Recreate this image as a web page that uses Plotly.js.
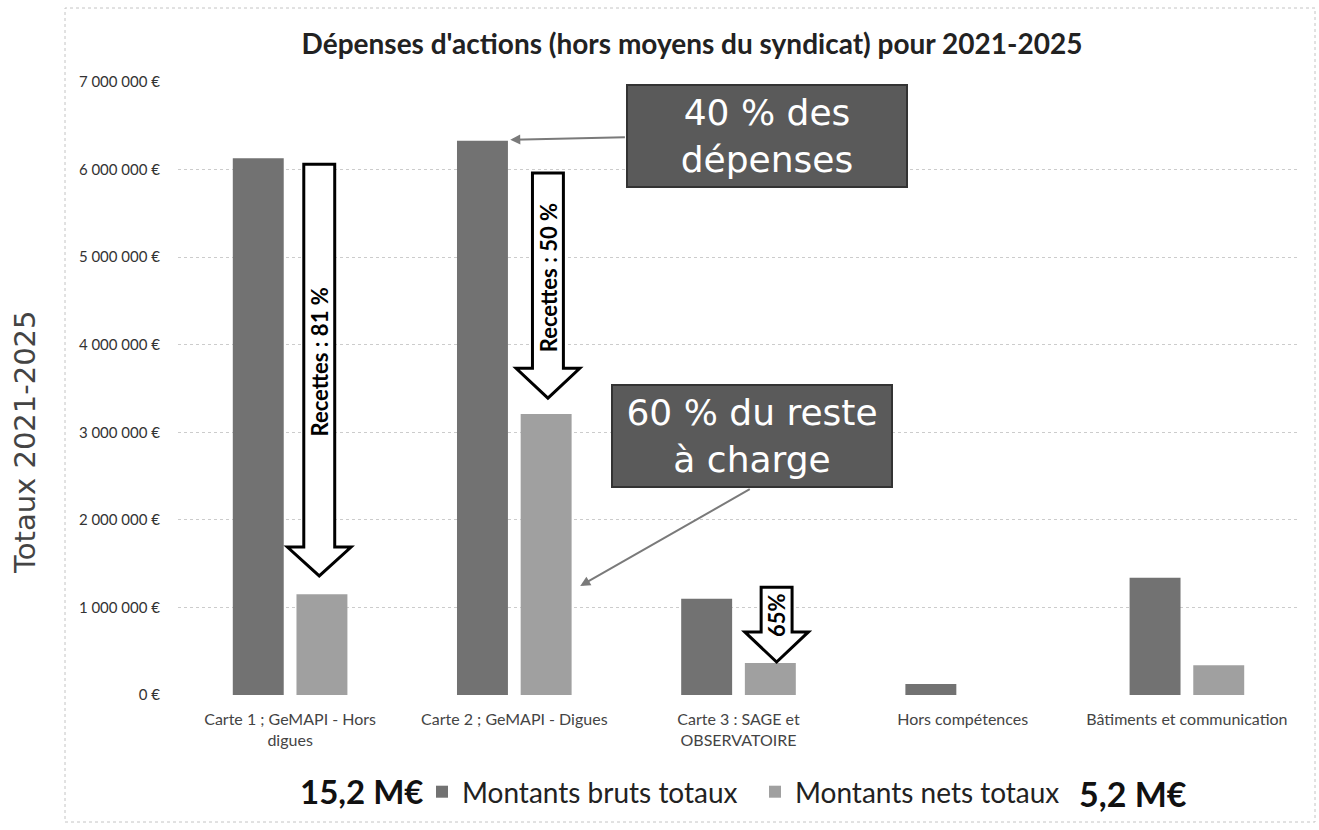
<!DOCTYPE html>
<html>
<head>
<meta charset="utf-8">
<script src="https://cdn.plot.ly/plotly-3.0.1.min.js"></script>
<style>
  html, body { margin: 0; padding: 0; background: #fff; }
  #graph { width: 1319px; height: 830px; }
</style>
</head>
<body>
<div id="graph"></div>
<script>
// values (euros, totals 2021-2025)
const categories = [
    "Carte 1 ; GeMAPI - Hors<br>digues",
    "Carte 2 ; GeMAPI - Digues",
    "Carte 3 : SAGE et<br>OBSERVATOIRE",
    "Hors compétences",
    "Bâtiments et communication"
];
const grossTotals = [6130000, 6330000, 1100000, 126000, 1340000];
const netTotals = [1150000, 3210000, 365000, 0, 340000];
const yTicks = [0, 1000000, 2000000, 3000000, 4000000, 5000000, 6000000, 7000000];
const yTickText = ["0 €", "1 000 000 €", "2 000 000 €", "3 000 000 €", "4 000 000 €", "5 000 000 €", "6 000 000 €", "7 000 000 €"];
const grossLabel = "Montants bruts totaux";
const netLabel = "Montants nets totaux";
const grossSum = "15,2 M€";
const netSum = "5,2 M€";

// hollow "recettes" arrows, from the gross level down to the net bar
const recettesArrows = [
    { cat: 0, label: "Recettes : 81 %", top: 6060000, headBase: 1690000, tip: 1360000, textY: 3800000 },
    { cat: 1, label: "Recettes : 50 %", top: 5960000, headBase: 3730000, tip: 3390000, textY: 4770000 },
    { cat: 2, label: "65%", top: 1230000, headBase: 720000, tip: 377000, textY: 910000 }
];
const arrowOffsets = [0.13, 0.15, 0.17];

// plot area in pixels (used only for decorations placed outside the axes)
const W = 1319, H = 830;
const M = { l: 178, r: 20, t: 82, b: 135 };
const pw = W - M.l - M.r, ph = H - M.t - M.b;
const px = x => (x - M.l) / pw;
const py = y => (H - M.b - y) / ph;

function arrowPath(c, a) {
    const s = 0.069, h = 0.142;
    return `M ${c - s},${a.top} L ${c + s},${a.top} L ${c + s},${a.headBase} ` +
           `L ${c + h},${a.headBase} L ${c},${a.tip} L ${c - h},${a.headBase} ` +
           `L ${c - s},${a.headBase} Z`;
}

const data = [
    {
        x: categories,
        y: grossTotals,
        type: "bar",
        name: grossLabel,
        marker: { color: "#727272" },
        hoverinfo: "skip"
    },
    {
        x: categories,
        y: netTotals,
        type: "bar",
        name: netLabel,
        marker: { color: "#a0a0a0" },
        hoverinfo: "skip"
    }
];

const shapes = recettesArrows.map((a, i) => ({
    type: "path",
    xref: "x", yref: "y",
    path: arrowPath(a.cat + arrowOffsets[i], a),
    fillcolor: "#ffffff",
    line: { color: "#000000", width: 3 }
}));

// dotted frame around the chart object
shapes.push({
    type: "rect", xref: "paper", yref: "paper",
    x0: px(65), x1: px(1315), y0: py(822), y1: py(8),
    line: { color: "#c4c4c4", width: 1, dash: "dot" },
    layer: "below"
});

const annotations = recettesArrows.map((a, i) => ({
    xref: "x", yref: "y",
    x: a.cat + arrowOffsets[i], y: a.textY,
    text: a.label,
    textangle: -90,
    showarrow: false,
    font: { family: "Lato, sans-serif", size: 22, color: "#000", weight: "bold" }
}));

const boxStyle = {
    xref: "x", yref: "y",
    showarrow: false,
    bgcolor: "#5a5a5a",
    bordercolor: "#333333",
    borderwidth: 2,
    borderpad: 0,
    width: 278,
    height: 100,
    align: "center",
    valign: "middle",
    font: { family: "DejaVu Sans, sans-serif", size: 36, color: "#ffffff" }
};

annotations.push(
    Object.assign({}, boxStyle, { x: 2.126, y: 6380000, text: "40 % des<br>dépenses" }),
    Object.assign({}, boxStyle, { x: 2.061, y: 2963000, text: "60 % du reste<br>à charge" }),
    {
        xref: "x", yref: "y", axref: "x", ayref: "y",
        x: 0.982, y: 6340000, ax: 1.5, ay: 6370000,
        text: "", showarrow: true,
        arrowhead: 2, arrowsize: 1, arrowwidth: 2, arrowcolor: "#7a7a7a"
    },
    {
        xref: "x", yref: "y", axref: "x", ayref: "y",
        x: 1.294, y: 1245000, ax: 2.057, ay: 2360000,
        text: "", showarrow: true,
        arrowhead: 2, arrowsize: 1, arrowwidth: 2, arrowcolor: "#7a7a7a"
    },
    {
        xref: "paper", yref: "paper",
        x: px(25), y: py(442),
        xanchor: "center", yanchor: "middle",
        text: "Totaux 2021-2025",
        textangle: -90,
        showarrow: false,
        font: { family: "DejaVu Sans, sans-serif", size: 29, color: "#444" }
    },
    {
        xref: "paper", yref: "paper",
        x: px(362), y: py(791),
        xanchor: "center", yanchor: "middle",
        text: grossSum,
        showarrow: false,
        font: { family: "Lato, sans-serif", size: 33, color: "#111", weight: "bold" }
    },
    {
        xref: "paper", yref: "paper",
        x: px(1133), y: py(793),
        xanchor: "center", yanchor: "middle",
        text: netSum,
        showarrow: false,
        font: { family: "Lato, sans-serif", size: 34, color: "#111", weight: "bold" }
    }
);

const layout = {
    width: W,
    height: H,
    margin: M,
    paper_bgcolor: "#ffffff",
    plot_bgcolor: "#ffffff",
    barmode: "group",
    bargap: 0.432,
    bargroupgap: 0.2,
    font: { family: "Lato, sans-serif", color: "#333" },
    title: {
        text: "Dépenses d'actions (hors moyens du syndicat) pour 2021-2025",
        font: { family: "Lato, sans-serif", size: 28, color: "#222", weight: "bold" },
        x: 692 / W,
        xanchor: "center",
        y: 1 - 44 / H,
        yanchor: "middle"
    },
    xaxis: {
        type: "category",
        showgrid: false,
        showline: false,
        zeroline: false,
        ticks: "",
        ticklabelstandoff: 13,
        tickfont: { size: 16, color: "#444" }
    },
    yaxis: {
        range: [0, 7000000],
        tickvals: yTicks,
        ticktext: yTickText,
        tickfont: { size: 15, color: "#333" },
        ticks: "",
        ticklabelstandoff: 17,
        showline: false,
        zeroline: false,
        showgrid: true,
        gridcolor: "#cccccc",
        griddash: "dot",
        gridwidth: 1
    },
    showlegend: true,
    legend: {
        orientation: "h",
        x: px(422),
        xanchor: "left",
        y: py(792),
        yanchor: "middle",
        entrywidth: 288,
        entrywidthmode: "pixels",
        font: { family: "Lato, sans-serif", size: 28, color: "#222" },
        itemclick: false
    },
    shapes: shapes,
    annotations: annotations
};

Plotly.newPlot("graph", data, layout, { displayModeBar: false, staticPlot: true });
</script>
</body>
</html>
